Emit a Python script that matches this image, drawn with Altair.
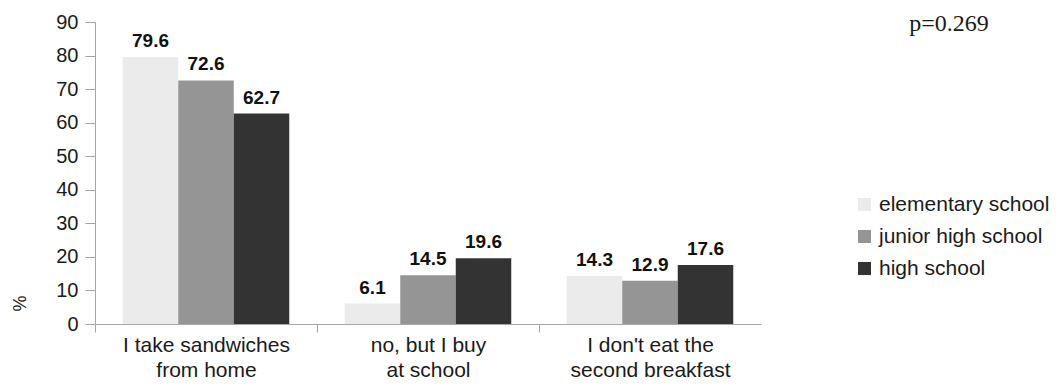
import altair as alt
import pandas as pd

categories = ["I take sandwiches|from home", "no, but I buy|at school", "I don't eat the|second breakfast"]
groups = ["elementary school", "junior high school", "high school"]
elementary = [79.6, 6.1, 14.3]
junior = [72.6, 14.5, 12.9]
high = [62.7, 19.6, 17.6]
colors = ["#ebebeb", "#959595", "#333333"]
y_ticks = [0, 10, 20, 30, 40, 50, 60, 70, 80, 90]
p_text = "p=0.269"

rows = []
for series, vals in zip(groups, [elementary, junior, high]):
    for cat, v in zip(categories, vals):
        rows.append({"category": cat, "group": series, "value": v})
df = pd.DataFrame(rows)

x_enc = alt.X(
    "category:N",
    sort=categories,
    scale=alt.Scale(paddingInner=0.25, paddingOuter=0.125),
    axis=alt.Axis(
        title=None,
        labelAngle=0,
        labelExpr="split(datum.label, '|')",
        labelFont="Liberation Sans",
        labelFontSize=21,
        labelColor="#1a1a1a",
        labelLineHeight=25,
        labelPadding=2,
        tickOffset=-111,
        labelOffset=111,
        tickSize=8,
        tickColor="#a6a6a6",
        domainColor="#a6a6a6",
        labelBaseline="top",
        labelLimit=0,
    ),
)
xoff = alt.XOffset("group:N", sort=groups, scale=alt.Scale(paddingInner=0, paddingOuter=0))
y_enc = alt.Y(
    "value:Q",
    scale=alt.Scale(domain=[0, 90], nice=False, zero=True),
    axis=alt.Axis(
        values=y_ticks,
        tickCount=10,
        labelOverlap=False,
        title="%",
        titleFont="Liberation Sans",
        titleFontSize=18,
        titleFontWeight="normal",
        titleColor="#1a1a1a",
        titleAngle=270,
        titleX=-75,
        titleY=281,
        titleAlign="center",
        titleBaseline="middle",
        labelFont="Liberation Sans",
        labelFontSize=20,
        labelColor="#1a1a1a",
        labelPadding=7,
        tickSize=10,
        tickColor="#a6a6a6",
        domainColor="#a6a6a6",
        grid=False,
    ),
)

base = alt.Chart(df)
bars = base.mark_bar(strokeWidth=0).encode(
    x=x_enc,
    xOffset=xoff,
    y=y_enc,
    color=alt.Color(
        "group:N",
        sort=groups,
        scale=alt.Scale(domain=groups, range=colors),
        legend=alt.Legend(
            title=None,
            orient="none",
            legendX=759,
            legendY=172,
            symbolType="square",
            symbolSize=169,
            symbolStrokeWidth=0,
            labelFont="Liberation Sans",
            labelFontSize=21,
            labelColor="#1a1a1a",
            labelOffset=4,
            labelLimit=0,
            rowPadding=10,
            padding=0,
        ),
    ),
)
labels = base.mark_text(
    font="Liberation Sans",
    fontSize=19,
    fontWeight="bold",
    color="#111111",
    baseline="alphabetic",
    dy=-10,
).encode(
    x=x_enc,
    xOffset=xoff,
    y=y_enc,
    text=alt.Text("value:Q", format=".1f"),
)
ptext = alt.Chart(pd.DataFrame({"t": [p_text]})).mark_text(
    font="Liberation Serif",
    fontSize=24,
    color="#1a1a1a",
    align="center",
    baseline="middle",
).encode(x=alt.value(854), y=alt.value(2), text="t:N")

chart = alt.layer(bars, labels, ptext).properties(
    width=666,
    height=302,
    background="white",
    autosize=alt.AutoSizeParams(type="none"),
    padding={"left": 87, "top": 14, "right": 295, "bottom": 56},
).configure_view(stroke=None, strokeWidth=0)

chart.save("out.html", embed_options={"renderer": "svg", "actions": False})
